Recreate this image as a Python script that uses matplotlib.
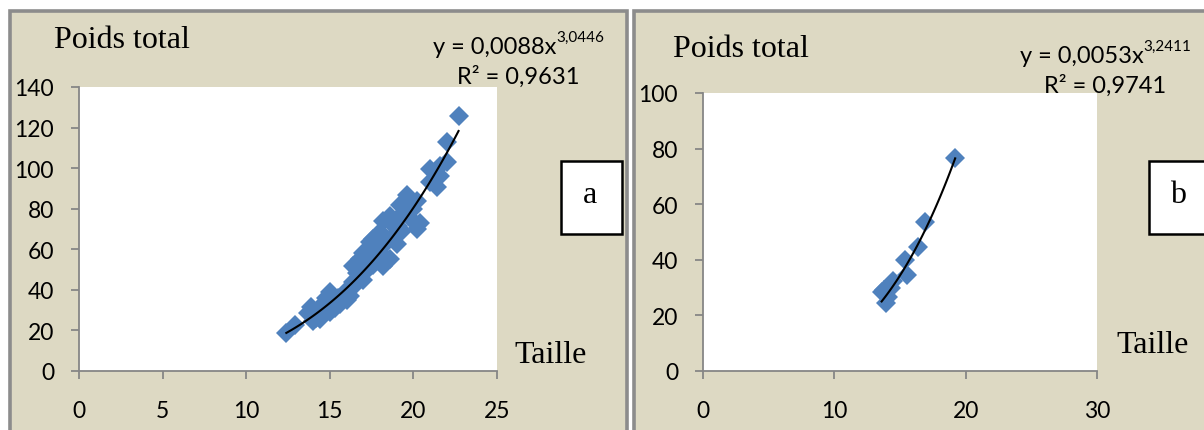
import matplotlib
matplotlib.use("Agg")
import matplotlib.pyplot as plt
from matplotlib.patches import Rectangle
import numpy as np

plt.rcParams['font.family'] = ['Lato', 'DejaVu Sans']

# panel a : poids total vs taille
taille_a = [12.4, 12.9, 13.7, 13.9, 14.0, 14.2, 14.4, 14.6, 14.8, 15.0, 15.0, 15.3,
            15.5, 15.6, 15.9, 16.0, 16.2, 16.3, 16.4, 16.4, 16.6, 16.8, 17.0, 17.2,
            17.4, 17.4, 17.5, 17.6, 17.6, 18.0, 18.0, 18.2, 18.2, 18.2, 18.4, 18.6,
            18.6, 18.8, 19.0, 19.1, 19.2, 19.3, 19.6, 19.7, 20.0, 20.2, 20.2, 20.0,
            21.0, 21.0, 21.4, 21.6, 21.6, 22.0, 22.0, 22.7,
            15.2, 16.0, 17.0, 17.8, 18.8, 19.4, 20.4, 14.3]
poids_a = [18.5, 22.5, 28.5, 31.5, 24.5, 26.0, 25.5, 33.0, 36.0, 29.0, 39.0, 31.0,
           36.0, 33.0, 38.5, 35.0, 37.0, 41.0, 44.0, 52.0, 48.5, 55.0, 45.0, 50.0,
           60.0, 63.5, 55.0, 52.5, 65.0, 58.5, 68.5, 52.0, 56.5, 74.0, 63.5, 55.0,
           76.5, 66.5, 62.5, 71.5, 82.0, 69.0, 87.0, 85.0, 74.0, 70.0, 84.0, 80.0,
           93.0, 99.5, 90.5, 96.0, 101.0, 103.0, 113.0, 125.5,
           37.0, 40.0, 58.0, 62.0, 72.0, 78.0, 73.0, 29.5]

# panel b
taille_b = [13.6, 13.8, 13.9, 14.1, 14.3, 14.5, 15.4, 15.5, 16.4, 16.9, 19.2]
poids_b = [28.5, 29.0, 24.5, 26.5, 30.0, 32.5, 40.0, 34.5, 44.5, 53.5, 76.5]

# power trend lines y = a * x^b
coef_a, expo_a, r2_a = 0.0088, 3.0446, 0.9631
coef_b, expo_b, r2_b = 0.0053, 3.2411, 0.9741

W, H = 1204, 431
beige = '#DDD9C3'
border = '#8C8C8C'
blue = '#4F81BD'
axis_grey = '#868686'

fig = plt.figure(figsize=(W / 100, H / 100), dpi=100)
fig.patch.set_facecolor('white')


def fx(px):
    return px / W


def fy(py):
    return 1 - py / H


def frame(x0, x1, y0, y1, **kw):
    r = Rectangle((fx(x0), fy(y1)), fx(x1) - fx(x0), fy(y0) - fy(y1),
                  transform=fig.transFigure, **kw)
    fig.add_artist(r)


# beige chart areas with grey outline
frame(9.5, 626.5, 12, 445, facecolor=beige, edgecolor=border, linewidth=2.6, zorder=-1)
frame(633.5, 1215, 12, 445, facecolor=beige, edgecolor=border, linewidth=2.6, zorder=-1)


def make_axes(left, right, top, bottom):
    ax = fig.add_axes([fx(left), fy(bottom), fx(right) - fx(left), fy(top) - fy(bottom)])
    ax.set_facecolor('white')
    for s in ['top', 'right']:
        ax.spines[s].set_visible(False)
    for s in ['left', 'bottom']:
        ax.spines[s].set_color(axis_grey)
        ax.spines[s].set_linewidth(1.3)
    ax.tick_params(direction='out', length=6, width=1.3, color=axis_grey,
                   labelsize=16.5, labelcolor='black')
    ax.tick_params(axis='y', pad=12)
    ax.tick_params(axis='x', pad=15)
    return ax


def draw_panel(ax, x, y, coef, expo, xmax, ymax, xstep):
    ax.plot(x, y, linestyle='none', marker='D', markersize=10.6,
            color=blue, markeredgewidth=0, zorder=2)
    xs = np.linspace(min(x), max(x), 100)
    ax.plot(xs, coef * xs ** expo, color='black', linewidth=1.5, zorder=3)
    ax.set_xlim(0, xmax)
    ax.set_ylim(0, ymax)
    ax.set_xticks(np.arange(0, xmax + 1, xstep))
    ax.set_yticks(np.arange(0, ymax + 1, 20))


def equation(ax, x, y, coef, expo, r2):
    t = fig.text(fx(x), fy(y), 'y = ' + f'{coef:.4f}'.replace('.', ',') + 'x',
                 fontsize=17, ha='left', va='baseline')
    ax.annotate(f'{expo:.4f}'.replace('.', ','), xy=(1, 0.62), xycoords=t,
                fontsize=11, ha='left', va='bottom', annotation_clip=False)
    fig.text(fx(x + 24), fy(y + 30), 'R² = ' + f'{r2:.4f}'.replace('.', ','),
             fontsize=17, ha='left', va='baseline')


serif = ['Liberation Serif', 'DejaVu Serif']

ax1 = make_axes(79, 497, 88, 372)
draw_panel(ax1, taille_a, poids_a, coef_a, expo_a, 25, 140, 5)
equation(ax1, 433, 54, coef_a, expo_a, r2_a)
fig.text(fx(54), fy(48), 'Poids total', family=serif, fontsize=23, va='baseline')
fig.text(fx(514), fy(363), 'Taille', family=serif, fontsize=23, va='baseline')
frame(561, 622, 162, 235, facecolor='white', edgecolor='black', linewidth=1.8, zorder=2)
fig.text(fx(590), fy(203), 'a', family=serif, fontsize=23, ha='center', va='baseline')

ax2 = make_axes(703, 1097, 94, 372)
draw_panel(ax2, taille_b, poids_b, coef_b, expo_b, 30, 100, 10)
equation(ax2, 1020, 63, coef_b, expo_b, r2_b)
fig.text(fx(673), fy(57), 'Poids total', family=serif, fontsize=23, va='baseline')
fig.text(fx(1116), fy(353), 'Taille', family=serif, fontsize=23, va='baseline')
frame(1149, 1215, 162, 235, facecolor='white', edgecolor='black', linewidth=1.8, zorder=2)
fig.text(fx(1178), fy(203), 'b', family=serif, fontsize=23, ha='center', va='baseline')

plt.savefig('out.png', dpi=100)
